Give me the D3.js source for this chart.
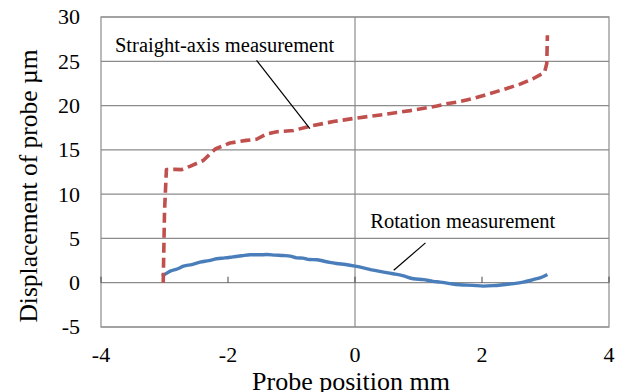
<!DOCTYPE html>
<html>
<head>
<meta charset="utf-8">
<script src="https://cdn.jsdelivr.net/npm/d3@7"></script>
<style>
  body { margin: 0; background: #fff; }
  svg text { font-family: 'Liberation Serif', 'Tinos', 'Times New Roman', 'DejaVu Serif', serif; fill: #000; }
</style>
</head>
<body>
<div id="chart"></div>
<script>
// Straight-axis measurement (red dashed)
var straightX = [-3.02, -3.0, -2.97, -2.83, -2.73, -2.6, -2.39, -2.2, -1.97, -1.71, -1.55, -1.39, -1.23, -0.97, -0.72, -0.34, 0, 0.45, 0.87, 1.29, 1.44, 1.64, 1.86, 2.13, 2.39, 2.6, 2.81, 2.95, 2.99, 3.02, 3.03];
var straightY = [0, 8.0, 12.77, 12.8, 12.77, 13.14, 13.8, 15.1, 15.77, 16.07, 16.2, 16.8, 17.04, 17.19, 17.65, 18.2, 18.57, 18.98, 19.43, 19.95, 20.2, 20.43, 20.8, 21.37, 21.93, 22.42, 23.06, 23.6, 23.9, 24.75, 27.93];

// Rotation measurement (blue solid)
var rotationX = [-3.04, -2.97, -2.91, -2.8, -2.7, -2.57, -2.44, -2.3, -2.18, -2.05, -1.92, -1.78, -1.65, -1.52, -1.39, -1.26, -1.13, -1.02, -0.92, -0.82, -0.72, -0.6, -0.5, -0.4, -0.29, -0.15, 0, 0.15, 0.29, 0.45, 0.6, 0.75, 0.92, 1.08, 1.23, 1.34, 1.5, 1.65, 1.85, 2.02, 2.18, 2.33, 2.5, 2.65, 2.76, 2.86, 2.95, 3.03];
var rotationY = [0.74, 1.05, 1.31, 1.55, 1.87, 2.05, 2.32, 2.5, 2.7, 2.8, 2.92, 3.05, 3.15, 3.15, 3.18, 3.12, 3.07, 3.0, 2.81, 2.78, 2.62, 2.6, 2.45, 2.3, 2.17, 2.05, 1.87, 1.65, 1.42, 1.2, 1.01, 0.8, 0.45, 0.35, 0.15, 0.07, -0.1, -0.23, -0.3, -0.38, -0.33, -0.23, -0.1, 0.07, 0.25, 0.45, 0.65, 0.93];

var xTicks = [-4, -2, 0, 2, 4];
var yTicks = [-5, 0, 5, 10, 15, 20, 25, 30];

var xTitle = "Probe position mm";
var yTitle = "Displacement of probe \u00b5m";

// Annotation labels: [text, textX, textY, lineFromX, lineFromY, lineToX, lineToY] in data units
var straightLabel = ["Straight-axis measurement", -3.78, 26.0, -1.55, 25.1, -0.71, 17.4];
var rotationLabel = ["Rotation measurement", 0.24, 6.2, 1.11, 4.5, 0.61, 1.4];

var svgWidth = 625;
var svgHeight = 392;
var margin = { top: 17, right: 16, bottom: 65, left: 101 };
var chartWidth = svgWidth - margin.left - margin.right;
var chartHeight = svgHeight - margin.top - margin.bottom;

var svg = d3.select("#chart")
  .append("svg")
  .attr("width", svgWidth)
  .attr("height", svgHeight);

var chartGroup = svg.append("g")
  .attr("transform", `translate(${margin.left}, ${margin.top})`);

var xScale = d3.scaleLinear().domain([-4, 4]).range([0, chartWidth]);
var yScale = d3.scaleLinear().domain([-5, 30]).range([chartHeight, 0]);

var gridColor = "#8c8c8c";

// horizontal gridlines
chartGroup.selectAll(".hgrid")
  .data(yTicks)
  .enter().append("line")
  .attr("x1", 0).attr("x2", chartWidth)
  .attr("y1", d => yScale(d)).attr("y2", d => yScale(d))
  .attr("stroke", gridColor).attr("stroke-width", 1.2);

// vertical line at x = 0 and plot border
chartGroup.append("line")
  .attr("x1", xScale(0)).attr("x2", xScale(0))
  .attr("y1", 0).attr("y2", chartHeight)
  .attr("stroke", gridColor).attr("stroke-width", 1.2);

chartGroup.append("rect")
  .attr("width", chartWidth).attr("height", chartHeight)
  .attr("fill", "none").attr("stroke", gridColor).attr("stroke-width", 1.2);

// small tick marks on the zero line
chartGroup.selectAll(".xtickmark")
  .data(xTicks)
  .enter().append("line")
  .attr("x1", d => xScale(d)).attr("x2", d => xScale(d))
  .attr("y1", yScale(0)).attr("y2", yScale(0) - 6)
  .attr("stroke", "#444").attr("stroke-width", 1);

// y tick labels
chartGroup.selectAll(".ylab")
  .data(yTicks)
  .enter().append("text")
  .attr("x", -21)
  .attr("y", d => yScale(d))
  .attr("dy", "0.34em")
  .attr("text-anchor", "end")
  .style("font-size", "22px")
  .text(d => d);

// x tick labels
chartGroup.selectAll(".xlab")
  .data(xTicks)
  .enter().append("text")
  .attr("x", d => xScale(d))
  .attr("y", chartHeight + 35)
  .attr("text-anchor", "middle")
  .style("font-size", "22px")
  .text(d => d);

// axis titles
svg.append("text")
  .attr("x", margin.left + xScale(0) - 4)
  .attr("y", 390)
  .attr("text-anchor", "middle")
  .style("font-size", "26px")
  .text(xTitle);

svg.append("text")
  .attr("transform", "translate(37, 186) rotate(-90)")
  .attr("text-anchor", "middle")
  .style("font-size", "25.5px")
  .text(yTitle);

var lineGen = d3.line()
  .x(d => xScale(d[0]))
  .y(d => yScale(d[1]));

var rotationData = d3.zip(rotationX, rotationY);
var straightData = d3.zip(straightX, straightY);

chartGroup.append("path")
  .attr("d", lineGen.curve(d3.curveMonotoneX)(rotationData))
  .attr("fill", "none")
  .attr("stroke", "#4a7ebb")
  .attr("stroke-width", 3.4)
  .attr("stroke-linejoin", "round");

chartGroup.append("path")
  .attr("d", lineGen.curve(d3.curveLinear)(straightData))
  .attr("fill", "none")
  .attr("stroke", "#c0504d")
  .attr("stroke-width", 3.6)
  .attr("stroke-dasharray", "10,5")
  .attr("stroke-linejoin", "round");

// annotations
[straightLabel, rotationLabel].forEach(function(a) {
  chartGroup.append("text")
    .attr("x", xScale(a[1]))
    .attr("y", yScale(a[2]))
    .style("font-size", "20.5px")
    .text(a[0]);
  chartGroup.append("line")
    .attr("x1", xScale(a[3])).attr("y1", yScale(a[4]))
    .attr("x2", xScale(a[5])).attr("y2", yScale(a[6]))
    .attr("stroke", "#000").attr("stroke-width", 1.2);
});
</script>
</body>
</html>
